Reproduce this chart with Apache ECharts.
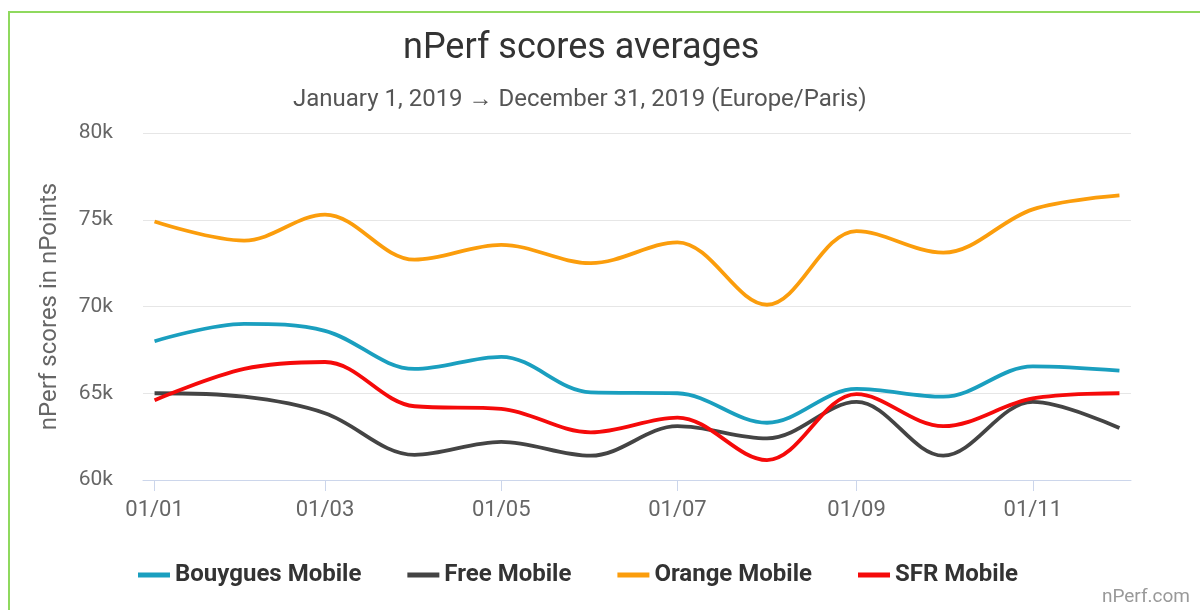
<!DOCTYPE html>
<html>
<head>
<meta charset="utf-8">
<script src="https://cdn.jsdelivr.net/npm/echarts@6/dist/echarts.min.js"></script>
<style>
  html, body { margin: 0; padding: 0; background: #fff; }
  #frame { position: absolute; left: 8px; top: 11px; width: 1300px; height: 700px; border: 2px solid #8fd95e; }
  #chart { position: absolute; left: 0; top: 0; width: 1200px; height: 610px; }
</style>
</head>
<body>
<div id="frame"></div>
<div id="chart"></div>
<script>
// months of 2019 (day/month)
const months = ['2019-01-01', '2019-02-01', '2019-03-01', '2019-04-01', '2019-05-01', '2019-06-01',
                '2019-07-01', '2019-08-01', '2019-09-01', '2019-10-01', '2019-11-01', '2019-12-01']
const tickDates = ['2019-01-01', '2019-03-01', '2019-05-01', '2019-07-01', '2019-09-01', '2019-11-01']

const bouygues = [68000, 69000, 68600, 66400, 67100, 65050, 65000, 63300, 65250, 64800, 66550, 66300]
const free     = [65000, 64800, 63850, 61450, 62200, 61400, 63100, 62400, 64500, 61400, 64500, 63000]
const orange   = [74900, 73800, 75300, 72700, 73550, 72500, 73700, 70100, 74350, 73100, 75600, 76400]
const sfr      = [64600, 66400, 66800, 64250, 64100, 62750, 63600, 61150, 64950, 63100, 64700, 65000]

const seriesNames = ['Bouygues Mobile', 'Free Mobile', 'Orange Mobile', 'SFR Mobile']
const colors = ['#1a9fbf', '#444444', '#fb9d0c', '#f50a0a']

const chart = echarts.init(document.getElementById('chart'), null, {renderer: 'canvas'})

const ts = d => Date.UTC(+d.slice(0, 4), +d.slice(5, 7) - 1, +d.slice(8, 10))

function pairs(vals) {
  return vals.map((v, i) => [ts(months[i]), v])
}

const allData = [bouygues, free, orange, sfr]
const FONT = 'Roboto, "Noto Sans", sans-serif'
const tickVals = tickDates.map(ts)

chart.setOption({
  animation: false,
  color: colors,
  graphic: [
    {
      type: 'text', left: 403, top: 31,
      style: { text: 'nPerf scores averages', fill: '#333', font: '36px ' + FONT }
    },
    {
      type: 'text', left: 293, top: 88,
      style: { text: 'January 1, 2019 \u2192 December 31, 2019 (Europe/Paris)', fill: '#555', font: '24px ' + FONT }
    },
    {
      type: 'text', right: 10, bottom: 3,
      style: { text: 'nPerf.com', fill: '#999', font: '19px ' + FONT }
    }
  ],
  grid: { left: 143, right: 69, top: 133, bottom: 130 },
  legend: {
    bottom: 18,
    left: 133,
    itemWidth: 32,
    itemHeight: 5,
    itemGap: 46,
    icon: 'rect',
    textStyle: { fontSize: 24, fontWeight: 'bold', color: '#333', fontFamily: FONT },
    data: seriesNames
  },
  xAxis: {
    type: 'value',
    min: ts('2018-12-28'),
    max: ts('2019-12-05'),
    axisLine: { onZero: false, lineStyle: { color: '#ccd6eb', width: 1 } },
    axisTick: {
      show: true, length: 11, lineStyle: { color: '#ccd6eb' },
      customValues: tickVals
    },
    axisLabel: {
      color: '#666', fontSize: 22, fontFamily: FONT, margin: 19,
      customValues: tickVals,
      formatter: function (val) {
        const d = new Date(val)
        const dd = String(d.getUTCDate()).padStart(2, '0')
        const mm = String(d.getUTCMonth() + 1).padStart(2, '0')
        return dd + '/' + mm
      }
    },
    splitLine: { show: false }
  },
  yAxis: {
    type: 'value',
    min: 60000,
    max: 80000,
    interval: 5000,
    name: 'nPerf scores in nPoints',
    nameLocation: 'middle',
    nameGap: 81,
    nameTextStyle: { color: '#666', fontSize: 24, fontFamily: FONT },
    axisLine: { show: false },
    axisTick: { show: false },
    axisLabel: {
      color: '#666', fontSize: 21, fontFamily: FONT, margin: 30,
      formatter: v => (v / 1000) + 'k'
    },
    splitLine: { lineStyle: { color: '#e6e6e6', width: 1 } }
  },
  series: seriesNames.map((name, i) => ({
    name: name,
    type: 'line',
    smooth: 0.35,
    showSymbol: false,
    symbol: 'none',
    lineStyle: { width: 3.8, color: colors[i] },
    data: pairs(allData[i])
  }))
})
</script>
</body>
</html>
